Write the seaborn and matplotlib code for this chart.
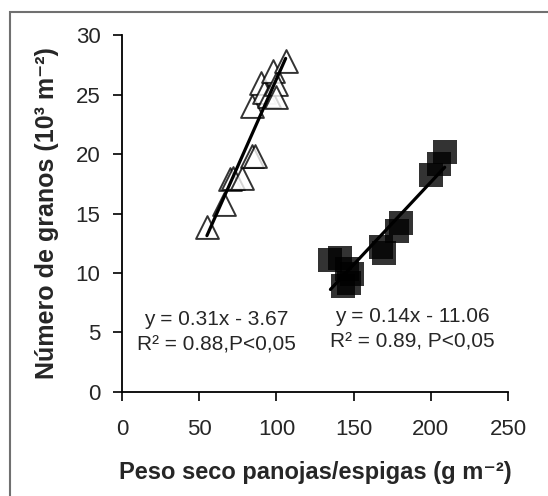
import numpy as np
import pandas as pd
import seaborn as sns
import matplotlib
matplotlib.use("Agg")
import matplotlib.pyplot as plt
from matplotlib.patches import Rectangle

# Data
tri_x = [55, 66, 70, 72, 78, 84, 86, 84, 90, 92, 95, 98, 100, 100, 106]
tri_y = [13.9, 15.8, 17.9, 18.0, 18.0, 19.8, 19.8, 24.0, 26.0, 25.2, 24.9, 27.0, 25.9, 24.8, 27.8]
sq_x = [135, 141, 143, 147, 149, 146, 168, 170, 178, 181, 200, 205, 209]
sq_y = [11.1, 11.3, 8.9, 9.2, 9.9, 10.3, 12.2, 11.7, 13.5, 14.2, 18.2, 19.2, 20.2]
eq_labels = ["y = 0.31x - 3.67\nR² = 0.88,P<0,05",
             "y = 0.14x - 11.06\nR² = 0.89, P<0,05"]
x_ticks = [0, 50, 100, 150, 200, 250]
y_ticks = [0, 5, 10, 15, 20, 25, 30]

sns.set_style("ticks")
plt.rcParams['font.family'] = ['Liberation Sans', 'DejaVu Sans']

fig = plt.figure(figsize=(5.48, 4.96), dpi=100)
ax = fig.add_axes([0.2226, 0.2097, 0.9270 - 0.2226, 0.9294 - 0.2097])

tri = pd.DataFrame({"x": tri_x, "y": tri_y})
sq = pd.DataFrame({"x": sq_x, "y": sq_y})

sns.regplot(data=tri, x="x", y="y", ax=ax, ci=None, truncate=True,
            marker="^", scatter_kws=dict(s=270, facecolors="white", edgecolors="black",
                                         linewidths=1.4, zorder=2),
            line_kws=dict(color="black", lw=2.3, zorder=3))
sns.regplot(data=sq, x="x", y="y", ax=ax, ci=None, truncate=True,
            marker="s", scatter_kws=dict(s=280, color="black", linewidths=0, zorder=2),
            line_kws=dict(color="black", lw=2.3, zorder=3))

ax.set_xlim(0, 250)
ax.set_ylim(0, 30)
ax.set_xticks(x_ticks)
ax.set_yticks(y_ticks)
ax.tick_params(axis='both', direction='out', length=6.5, width=1.2, labelsize=16, color='black')
ax.tick_params(axis='y', pad=9)
ax.tick_params(axis='x', pad=13)
for s in ["top", "right"]:
    ax.spines[s].set_visible(False)
for s in ["left", "bottom"]:
    ax.spines[s].set_linewidth(1.3)
    ax.spines[s].set_color("black")

ax.set_xlabel("Peso seco panojas/espigas (g m⁻²)", fontsize=17, fontweight='bold', labelpad=15)
ax.set_ylabel("Número de granos (10³ m⁻²)", fontsize=18, fontweight='bold', labelpad=12)

ax.text(61, 5.0, eq_labels[0], ha='center', va='center', fontsize=15, linespacing=1.45)
ax.text(188, 5.25, eq_labels[1], ha='center', va='center', fontsize=15, linespacing=1.45)

fig.patches.append(Rectangle((10 / 548, -0.01), 1.0, 1 - 12 / 496 + 0.01, transform=fig.transFigure,
                             fill=False, edgecolor='#707070', lw=1.5))

fig.savefig("out.png", dpi=100)
